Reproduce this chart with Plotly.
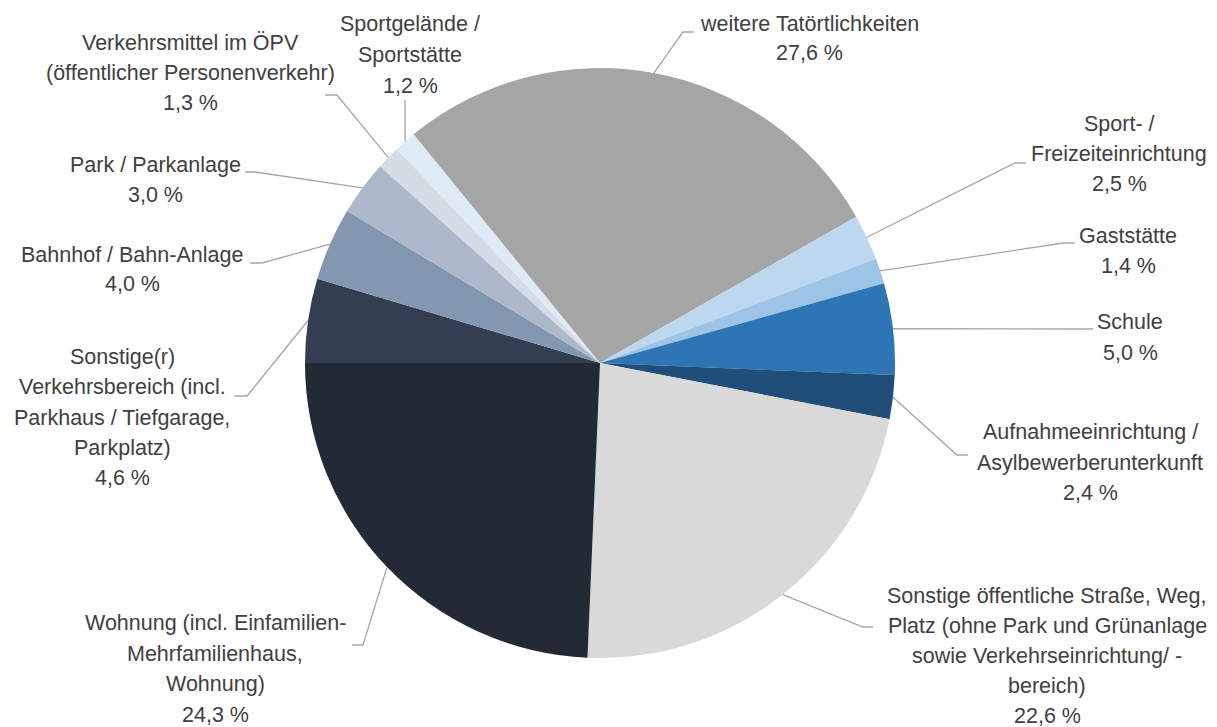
import math
import plotly.graph_objects as go

# ---- data (clockwise from 9 o'clock) ----
categories = [
    "Sonstige(r) Verkehrsbereich (incl. Parkhaus / Tiefgarage, Parkplatz)",
    "Bahnhof / Bahn-Anlage",
    "Park / Parkanlage",
    "Verkehrsmittel im ÖPV (öffentlicher Personenverkehr)",
    "Sportgelände / Sportstätte",
    "weitere Tatörtlichkeiten",
    "Sport- / Freizeiteinrichtung",
    "Gaststätte",
    "Schule",
    "Aufnahmeeinrichtung / Asylbewerberunterkunft",
    "Sonstige öffentliche Straße, Weg, Platz (ohne Park und Grünanlage sowie Verkehrseinrichtung/ -bereich)",
    "Wohnung (incl. Einfamilien- Mehrfamilienhaus, Wohnung)",
]
values = [4.6, 4.0, 3.0, 1.3, 1.2, 27.6, 2.5, 1.4, 5.0, 2.4, 22.6, 24.3]
colors = ["#333F50", "#8497B0", "#ADB9CA", "#D6DCE5", "#DEEBF7", "#A5A5A5",
          "#BDD7EE", "#9DC3E6", "#2E75B6", "#1F4E79", "#D9D9D9", "#222A35"]

# label line breaks (as in the reference)
label_lines = [
    ["Sonstige(r)", "Verkehrsbereich (incl.", "Parkhaus / Tiefgarage,", "Parkplatz)"],
    ["Bahnhof / Bahn-Anlage"],
    ["Park / Parkanlage"],
    ["Verkehrsmittel im ÖPV", "(öffentlicher Personenverkehr)"],
    ["Sportgelände /", "Sportstätte"],
    ["weitere Tatörtlichkeiten"],
    ["Sport- /", "Freizeiteinrichtung"],
    ["Gaststätte"],
    ["Schule"],
    ["Aufnahmeeinrichtung /", "Asylbewerberunterkunft"],
    ["Sonstige öffentliche Straße, Weg,", "Platz (ohne Park und Grünanlage", "sowie Verkehrseinrichtung/ -", "bereich)"],
    ["Wohnung (incl. Einfamilien-", "Mehrfamilienhaus,", "Wohnung)"],
]

# ---- layout (pixels) ----
W, H = 1217, 727
CX, CY, R = 600, 363, 295
START = 270  # degrees clockwise from 12 o'clock

# label block: (center x, first-line y, line spacing)
label_pos = [(122, 357, 30.3), (132, 255, 29), (155, 165, 30), (190, 43, 30),
             (410, 24, 31), (809, 24, 29), (1119, 124, 30), (1128, 236, 30),
             (1130, 322, 31), (1090, 432, 30.5), (1047, 596, 30), (215, 623, 30.7)]
# leader: elbow and end point
leader_pts = [((247, 396), (234, 396)), ((262, 263), (250, 263)), ((255, 172), (245, 172)),
              ((337, 95), (325, 95)), ((405, 106), (405, 100)), ((683, 32), (694, 32)),
              ((1015, 163), (1026, 163)), ((1063, 243), (1075, 243)), ((1080, 329), (1093, 329)),
              ((957, 455), (968, 455)), ((863, 627), (873, 627)), ((363, 645), (352, 645))]

def px(x):
    return x / W

def py(y):
    return 1 - y / H

fig = go.Figure(go.Pie(
    labels=categories, values=values, sort=False, direction="clockwise",
    rotation=START, marker=dict(colors=colors, line=dict(width=0)),
    textinfo="none", hoverinfo="label+percent", showlegend=False,
    domain=dict(x=[px(CX - R), px(CX + R)], y=[py(CY + R), py(CY - R)]),
))

FONT = dict(family="Liberation Sans, Arial, sans-serif", size=21.5, color="#404040")

total = sum(values)
cum = 0.0
annotations = []
shapes = []
for i, v in enumerate(values):
    mid = math.radians(START + 360.0 * (cum + v / 2) / total)
    cum += v
    sx = CX + R * math.sin(mid)
    sy = CY - R * math.cos(mid)
    (ex, ey), (tx, ty) = leader_pts[i]
    shapes.append(dict(type="path", xref="paper", yref="paper",
                       path=f"M {px(sx)} {py(sy)} L {px(ex)} {py(ey)} L {px(tx)} {py(ty)}",
                       line=dict(color="#A6A6A6", width=1.3)))
    lines = label_lines[i] + [f"{v:.1f} %".replace(".", ",")]
    lx, ly, sp = label_pos[i]
    for j, t in enumerate(lines):
        annotations.append(dict(x=px(lx), y=py(ly + j * sp), xref="paper", yref="paper",
                                text=t, showarrow=False, xanchor="center", yanchor="middle",
                                font=FONT))

fig.update_layout(width=W, height=H, margin=dict(l=0, r=0, t=0, b=0),
                  paper_bgcolor="white", plot_bgcolor="white",
                  annotations=annotations, shapes=shapes)

fig.write_html("out.html", config={"displayModeBar": False},
               post_script="document.body.style.margin='0';document.body.style.overflow='hidden';")
